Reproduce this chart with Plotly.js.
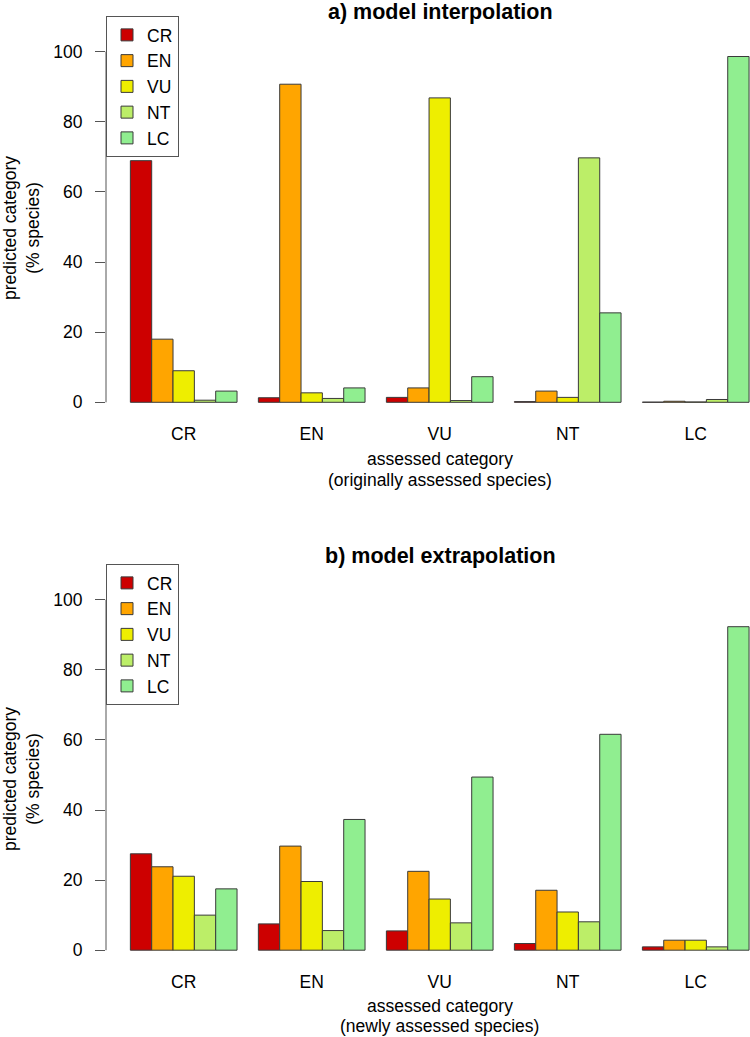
<!DOCTYPE html>
<html>
<head>
<meta charset="utf-8">
<script src="https://cdn.plot.ly/plotly-3.0.1.min.js"></script>
<style>html,body{margin:0;padding:0;background:#fff;}#chart{width:750px;height:1037px;}</style>
</head>
<body>
<div id="chart"></div>
<script>
// assessed categories (x groups) and predicted categories (series)
const categories = ['CR', 'EN', 'VU', 'NT', 'LC'];
const seriesNames = ['CR', 'EN', 'VU', 'NT', 'LC'];
const seriesColors = ['#CD0000', '#FFA500', '#EEEE00', '#BCEE68', '#90EE90'];
const yTicks = [0, 20, 40, 60, 80, 100];

// a) model interpolation: % species predicted in each category, per assessed category
const interpCR = [68.9, 1.3, 1.4, 0.2, 0.05];
const interpEN = [18.0, 90.7, 4.1, 3.2, 0.3];
const interpVU = [9.0, 2.7, 86.8, 1.4, 0.1];
const interpNT = [0.6, 1.1, 0.5, 69.7, 0.8];
const interpLC = [3.2, 4.1, 7.3, 25.5, 98.6];

// b) model extrapolation
const extrapCR = [27.5, 7.5, 5.5, 1.9, 0.95];
const extrapEN = [23.8, 29.7, 22.5, 17.1, 2.85];
const extrapVU = [21.1, 19.6, 14.6, 10.9, 2.85];
const extrapNT = [10.0, 5.6, 7.8, 8.1, 0.95];
const extrapLC = [17.5, 37.3, 49.4, 61.6, 92.3];

const titleA = 'a) model interpolation';
const titleB = 'b) model extrapolation';
const yTitle = 'predicted category<br>(% species)';
const xTitleLine1 = 'assessed category';
const xTitleA2 = '(originally assessed species)';
const xTitleB2 = '(newly assessed species)';

const interp = [interpCR, interpEN, interpVU, interpNT, interpLC];
const extrap = [extrapCR, extrapEN, extrapVU, extrapNT, extrapLC];

const FONT = 'Liberation Sans, Arial, Helvetica, sans-serif';
const FS = 17.5;
const W = 750, H = 1037;
const py = p => 1 - p / H;   // pixel-from-top to paper y
const px = p => p / W;

const traces = [];
interp.forEach((vals, i) => {
  traces.push({
    type: 'bar', name: seriesNames[i], x: categories, y: vals,
    xaxis: 'x', yaxis: 'y', legend: 'legend',
    marker: {color: seriesColors[i], line: {color: '#3a3a3a', width: 1}},
    hoverinfo: 'x+y+name'
  });
});
extrap.forEach((vals, i) => {
  traces.push({
    type: 'bar', name: seriesNames[i], x: categories, y: vals,
    xaxis: 'x2', yaxis: 'y2', legend: 'legend2',
    marker: {color: seriesColors[i], line: {color: '#3a3a3a', width: 1}},
    hoverinfo: 'x+y+name'
  });
});

const xRange = [-0.607, 4.424];
function xAxis(posPx) {
  return {
    type: 'category', range: xRange, domain: [px(106), 1],
    anchor: 'free', position: py(posPx),
    showline: false, showgrid: false, zeroline: false, ticks: '',
    tickfont: {family: FONT, size: FS, color: '#000'},
    ticklabelstandoff: 19, fixedrange: true
  };
}
function yAxis(range, domTop, domBot, anchor) {
  return {
    range: range, domain: [py(domBot), py(domTop)], anchor: anchor,
    tickvals: yTicks, ticks: 'outside', ticklen: 10, tickcolor: '#555', tickwidth: 1,
    showline: false, showgrid: false, zeroline: false,
    tickfont: {family: FONT, size: FS, color: '#000'},
    ticklabelstandoff: 9,
    title: {text: yTitle, font: {family: FONT, size: FS, color: '#000'}, standoff: 14},
    fixedrange: true
  };
}

const legendBase = {
  x: px(106), xanchor: 'left', yanchor: 'top',
  bgcolor: '#fff', bordercolor: '#555', borderwidth: 1,
  font: {family: FONT, size: FS, color: '#000'}, tracegroupgap: 0
};

function note(text, xref, x, yPx, size, extra) {
  return Object.assign({
    text: text, xref: xref, yref: 'paper', x: x, y: py(yPx),
    xanchor: 'center', yanchor: 'middle', showarrow: false, borderpad: 0,
    font: {family: FONT, size: size, color: '#000'}
  }, extra || {});
}

const layout = {
  width: W, height: H, autosize: false,
  margin: {l: 0, r: 0, t: 0, b: 0, pad: 0},
  paper_bgcolor: '#fff', plot_bgcolor: '#fff',
  font: {family: FONT, size: FS, color: '#000'},
  barmode: 'group', bargap: 1 / 6, bargroupgap: 0,
  xaxis: xAxis(402.3),
  yaxis: yAxis([-10.75, 110.15], 16, 440, 'x'),
  xaxis2: xAxis(950),
  yaxis2: yAxis([-12.5, 110.19], 564, 994, 'x2'),
  legend: Object.assign({}, legendBase, {y: py(16)}),
  legend2: Object.assign({}, legendBase, {y: py(564)}),
  shapes: [
    {type: 'line', xref: 'x domain', yref: 'y', x0: 0, x1: 0, y0: 0, y1: 100,
     line: {color: '#555', width: 1}},
    {type: 'line', xref: 'x2 domain', yref: 'y2', x0: 0, x1: 0, y0: 0, y1: 100,
     line: {color: '#555', width: 1}}
  ],
  annotations: [
    note('<b>' + titleA + '</b>', 'paper', px(440), 12, 21.5),
    note('<b>' + titleB + '</b>', 'paper', px(440), 556, 21.5),
    note(xTitleLine1, 'x', 2, 458.5, FS),
    note(xTitleA2, 'x', 2, 480, FS),
    note(xTitleLine1, 'x2', 2, 1006, FS),
    note(xTitleB2, 'x2', 2, 1025.5, FS)
  ]
};

Plotly.newPlot('chart', traces, layout, {displayModeBar: false, staticPlot: true});
</script>
</body>
</html>
